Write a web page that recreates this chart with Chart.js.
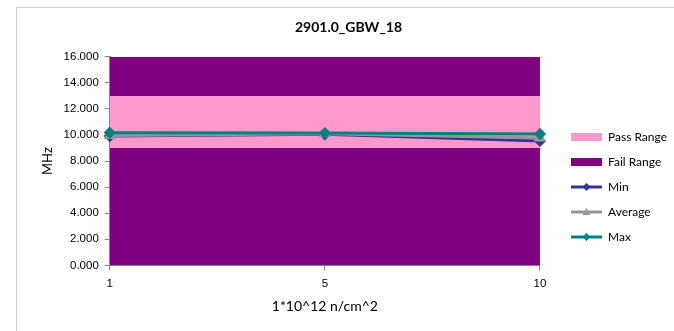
<!DOCTYPE html>
<html>
<head>
<meta charset="utf-8">
<script src="https://cdn.jsdelivr.net/npm/chart.js@4"></script>
<style>
  html, body { margin: 0; padding: 0; background: #fff; }
  #wrap { position: relative; width: 674px; height: 331px; overflow: hidden; }
  #frame { position: absolute; left: 16px; top: 7px; width: 700px; height: 400px;
           border-left: 1px solid #d0d0d0; border-top: 1px solid #d0d0d0; }
  canvas { position: absolute; left: 0; top: 0; }
</style>
</head>
<body>
<div id="wrap">
  <div id="frame"></div>
  <canvas id="gbwChart" width="674" height="331"></canvas>
</div>
<script>
// chart data
const fluence = ['1', '5', '10'];
const minVals = [9.92, 10.05, 9.55];
const avgVals = [9.96, 10.10, 9.78];
const maxVals = [10.18, 10.15, 10.08];
const passHigh = [13, 13, 13];
const passLow = [9, 9, 9];
const failTop = [16, 16, 16];
const yTicks = [0, 2, 4, 6, 8, 10, 12, 14, 16];

const PURPLE = '#800080';
const PINK = '#ff99cc';
const MIN_COL = '#333399';
const AVG_COL = '#969696';
const MAX_COL = '#008080';

// small legend swatches (line + marker, or filled box)
function swatch(color, kind) {
    const c = document.createElement('canvas');
    c.width = 31; c.height = 10;
    const g = c.getContext('2d');
    if (kind === 'box') {
        g.fillStyle = color;
        g.fillRect(0, 1, 31, 8);
        return c;
    }
    g.strokeStyle = color;
    g.lineWidth = 3;
    g.beginPath();
    g.moveTo(0, 5); g.lineTo(31, 5);
    g.stroke();
    g.fillStyle = color;
    g.beginPath();
    if (kind === 'tri') {
        g.moveTo(15.5, 1); g.lineTo(19.5, 8); g.lineTo(11.5, 8);
    } else {
        g.moveTo(15.5, 1); g.lineTo(19.5, 5); g.lineTo(15.5, 9); g.lineTo(11.5, 5);
    }
    g.closePath();
    g.fill();
    return c;
}

// nudge legend and title boxes (Excel places them a little differently)
const boxShift = {
    id: 'boxShift',
    afterLayout(chart) {
        const lg = chart.legend;
        if (lg) {
            lg.left += 18; lg.right += 18;
            lg.top += 18; lg.bottom += 18;
        }
        const tb = chart.titleBlock;
        if (tb) { tb.left += 8; tb.right += 8; }
    }
};

const ctx = document.getElementById('gbwChart').getContext('2d');
const gbwChart = new Chart(ctx, {
    type: 'line',
    data: {
        labels: fluence,
        datasets: [
            {
                label: 'Pass Range', data: passHigh, order: 5,
                backgroundColor: PINK, borderWidth: 0, pointRadius: 0, fill: 2
            },
            {
                label: 'Fail Range', data: failTop, order: 6,
                backgroundColor: PURPLE, borderWidth: 0, pointRadius: 0, fill: 'origin'
            },
            {
                label: '_passLow', data: passLow, order: 4,
                borderWidth: 0, pointRadius: 0, fill: false
            },
            {
                label: 'Min', data: minVals, order: 3,
                borderColor: MIN_COL, backgroundColor: MIN_COL, borderWidth: 3,
                pointStyle: 'rectRot', pointRadius: 4, fill: false
            },
            {
                label: 'Average', data: avgVals, order: 2,
                borderColor: AVG_COL, backgroundColor: AVG_COL, borderWidth: 3,
                pointStyle: 'triangle', pointRadius: 4, fill: false
            },
            {
                label: 'Max', data: maxVals, order: 1,
                borderColor: MAX_COL, backgroundColor: MAX_COL, borderWidth: 3,
                pointStyle: 'rectRot', pointRadius: 4, fill: false
            }
        ]
    },
    options: {
        responsive: false,
        animation: false,
        layout: { padding: { left: 22, right: 15, top: 19, bottom: 12 } },
        elements: { line: { tension: 0 } },
        plugins: {
            title: {
                display: true,
                text: '2901.0_GBW_18',
                color: '#000',
                font: { family: 'Lato', size: 14, weight: 'bold' },
                padding: { top: 0, bottom: 21 }
            },
            legend: {
                position: 'right',
                labels: {
                    filter: item => !item.text.startsWith('_'),
                    sort: (a, b) => a.datasetIndex - b.datasetIndex,
                    generateLabels: chart => {
                        const base = Chart.defaults.plugins.legend.labels.generateLabels(chart);
                        const styles = {
                            'Pass Range': swatch(PINK, 'box'),
                            'Fail Range': swatch(PURPLE, 'box'),
                            'Min': swatch(MIN_COL, 'dia'),
                            'Average': swatch(AVG_COL, 'tri'),
                            'Max': swatch(MAX_COL, 'dia')
                        };
                        base.forEach(l => { if (styles[l.text]) l.pointStyle = styles[l.text]; });
                        return base;
                    },
                    usePointStyle: true,
                    pointStyleWidth: 31,
                    boxHeight: 10,
                    padding: 13,
                    color: '#000',
                    font: { family: 'Lato', size: 12 }
                }
            },
            tooltip: { enabled: false }
        },
        scales: {
            x: {
                offset: false,
                grid: { drawOnChartArea: false, color: '#888', tickLength: 5 },
                border: { color: '#888', width: 2 },
                ticks: { color: '#000', font: { family: 'Liberation Sans', size: 11.5 }, padding: 7 },
                title: {
                    display: true, text: '1*10^12 n/cm^2', color: '#000',
                    font: { family: 'Lato', size: 14 }, padding: { top: 0 }
                }
            },
            y: {
                min: 0, max: 16,
                afterBuildTicks: axis => { axis.ticks = yTicks.map(v => ({ value: v })); },
                grid: { drawOnChartArea: false, color: '#888', tickLength: 5 },
                border: { color: '#888', width: 2 },
                ticks: {
                    color: '#000', font: { family: 'Liberation Sans', size: 11.5 }, padding: 6,
                    callback: v => Number(v).toFixed(3)
                },
                title: {
                    display: true, text: 'MHz', color: '#000',
                    font: { family: 'Lato', size: 13 }, padding: { top: 18, bottom: 2 }
                }
            }
        }
    },
    plugins: [boxShift]
});
</script>
</body>
</html>
